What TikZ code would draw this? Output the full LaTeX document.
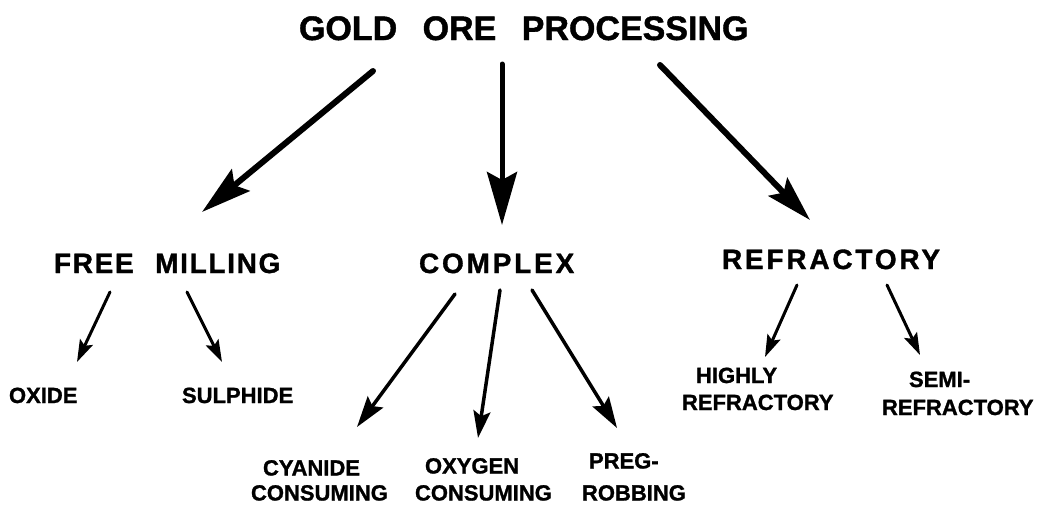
\documentclass[tikz,border=0pt]{standalone}
\usepackage{fontspec}
\setmainfont{Liberation Sans}[BoldFeatures={FakeBold=1.2}]
\usetikzlibrary{arrows.meta}
\tikzset{
  lbl/.style={inner sep=0pt, outer sep=0pt},
  titlefont/.style={lbl, font=\fontsize{34}{40}\selectfont\bfseries},
  midfont/.style={lbl, font=\fontsize{28}{32}\selectfont\bfseries\addfontfeature{LetterSpace=#1}},
  smallfont/.style={lbl, font=\fontsize{22}{25}\selectfont\bfseries},
  twoline/.style={smallfont, align=left, text depth=0pt, anchor=south west},
  bigarrow/.style={line width=6pt, line cap=round, -{Stealth[length=50pt,width=28pt,inset=8pt]}},
  midarrow/.style={line width=3.5pt, line cap=round, -{Stealth[length=31pt,width=19pt,inset=5pt]}},
  smallarrow/.style={line width=3pt, line cap=round, -{Stealth[length=22pt,width=14pt,inset=4pt]}}
}
\begin{document}
\begin{tikzpicture}[x=1pt,y=-1pt]
\path[use as bounding box, fill=white] (0,0) rectangle (1040,504);

% labels
\node[titlefont, anchor=base west] (title) at (299,40) {GOLD\hspace{16pt} ORE\hspace{16pt} PROCESSING};
\node[midfont=6, anchor=base west] (free) at (54,273) {FREE\hspace{12pt} MILLING};
\node[midfont=10, anchor=base west] (complex) at (419,273) {COMPLEX};
\node[midfont=10, anchor=base west] (refr) at (722,269) {REFRACTORY};

\node[smallfont, anchor=base west] (oxide) at (9,403) {OXIDE};
\node[smallfont, anchor=base west] (sulph) at (182,403) {SULPHIDE};
\node[twoline] (cyan) at (251,500.5) {\hspace*{12pt}CYANIDE\\CONSUMING};
\node[twoline] (oxyg) at (415,500.5) {\hspace*{10pt}OXYGEN\\[2pt]CONSUMING};
\node[twoline] (preg) at (582,500.5) {\hspace*{7pt}PREG-\\[7pt]ROBBING};
\node[twoline] (highly) at (682,410) {\hspace*{14pt}HIGHLY\\[2pt]REFRACTORY};
\node[twoline] (semi) at (882,415) {\hspace*{27pt}SEMI-\\[3pt]REFRACTORY};

% connector end points
\coordinate (t1) at (373,71);  \coordinate (f0) at (202,212);
\coordinate (t2) at (502,64);  \coordinate (c0) at (502,225);
\coordinate (t3) at (660,65);  \coordinate (r0) at (810,220);
\coordinate (f1) at (110,292); \coordinate (ox) at (77,362);
\coordinate (f2) at (187,292); \coordinate (su) at (222,362);
\coordinate (c1) at (455,294); \coordinate (cy) at (357,427);
\coordinate (c2) at (500,290); \coordinate (oy) at (478,438);
\coordinate (c3) at (532,290); \coordinate (pr) at (617,428);
\coordinate (r1) at (797,285); \coordinate (hi) at (765,357);
\coordinate (r2) at (887,285); \coordinate (se) at (920,355);

% connectors
\draw[bigarrow] (t1) -- (f0);
\draw[bigarrow, line width=5pt, -{Stealth[length=53pt,width=30pt,inset=8pt]}] (t2) -- (c0);
\draw[bigarrow, -{Stealth[length=46pt,width=26pt,inset=8pt]}] (t3) -- (r0);
\draw[smallarrow] (f1) -- (ox);
\draw[smallarrow] (f2) -- (su);
\draw[midarrow] (c1) -- (cy);
\draw[midarrow, -{Stealth[length=27pt,width=17pt,inset=5pt]}] (c2) -- (oy);
\draw[midarrow] (c3) -- (pr);
\draw[smallarrow] (r1) -- (hi);
\draw[smallarrow] (r2) -- (se);
\end{tikzpicture}
\end{document}
